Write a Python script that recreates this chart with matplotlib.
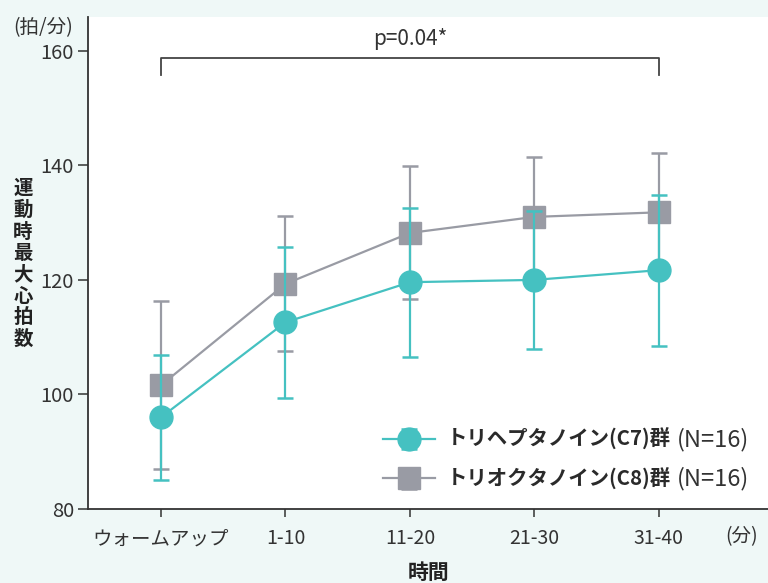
import matplotlib
matplotlib.use("Agg")
import matplotlib.pyplot as plt
import numpy as np

plt.rcParams['font.family'] = ['Noto Sans CJK JP', 'DejaVu Sans']

# Data: maximum heart rate during exercise (beats/min), mean ± SD
categories = ["ウォームアップ", "1-10", "11-20", "21-30", "31-40"]
c7_mean = [96.0, 112.6, 119.6, 120.0, 121.7]
c7_sd = [10.9, 13.2, 13.0, 12.0, 13.2]
c8_mean = [101.6, 119.3, 128.2, 131.0, 131.8]
c8_sd = [14.7, 11.8, 11.6, 10.5, 10.3]
c7_label = "トリヘプタノイン(C7)群"
c8_label = "トリオクタノイン(C8)群"
n_label = "(N=16)"
p_text = "p=0.04*"
yticks = [80, 100, 120, 140, 160]

teal = "#45c1c1"
gray = "#999ba4"
axis_col = "#333333"
text_col = "#333333"
bg = "#eff8f7"

fig = plt.figure(figsize=(7.68, 5.83), dpi=100, facecolor=bg)
ax = fig.add_axes([88 / 768, 74 / 583, 680 / 768, 492 / 583])
ax.set_facecolor("white")

x = np.arange(len(categories))

ax.errorbar(x, c8_mean, yerr=c8_sd, color=gray, lw=1.6, marker="s", ms=16.5,
            mec=gray, mfc=gray, capsize=6, capthick=1.8, elinewidth=1.6, zorder=3,
            label=c8_label)
ax.errorbar(x, c7_mean, yerr=c7_sd, color=teal, lw=1.6, marker="o", ms=16.5,
            mec=teal, mfc=teal, capsize=6, capthick=1.8, elinewidth=1.6, zorder=4,
            label=c7_label)

ax.set_xlim(-0.586, 4.876)
ax.set_ylim(80, 165.9)

for s in ["top", "right"]:
    ax.spines[s].set_visible(False)
for s in ["left", "bottom"]:
    ax.spines[s].set_color(axis_col)
    ax.spines[s].set_linewidth(1.3)

ax.set_yticks(yticks)
ax.set_yticklabels([str(v) for v in yticks], fontsize=14.5, color=text_col)
ax.set_xticks(x)
ax.set_xticklabels(categories, fontsize=14, color=text_col)
ax.tick_params(axis="y", direction="out", length=7, width=1.1, color=axis_col, pad=3)
ax.tick_params(axis="x", direction="out", length=6, width=1.1, color=axis_col, pad=8)

# significance bracket
ax.plot([x[0], x[0], x[-1], x[-1]], [155.8, 158.8, 158.8, 155.8],
        color="#444444", lw=1.3, clip_on=False)
ax.text((x[0] + x[-1]) / 2, 162.0, p_text, ha="center", va="center",
        fontsize=15, color=text_col)

# axis annotations
fig.text(13 / 768, 1 - 28 / 583, "(拍/分)", ha="left", va="center", fontsize=14, color=text_col)
fig.text(742 / 768, 1 - 537 / 583, "(分)", ha="center", va="center", fontsize=14, color=text_col)
fig.text(429 / 768, 1 - 572 / 583, "時間", ha="center", va="center", fontsize=15,
         fontweight="bold", color="#222222")
fig.text(23 / 768, 1 - 264 / 583, "\n".join("運動時最大心拍数"), ha="center", va="center",
         fontsize=14, fontweight="bold", color="#222222", linespacing=1.16)

# legend: C7 first, then C8
handles, labels = ax.get_legend_handles_labels()
leg = ax.legend(handles[::-1], labels[::-1], loc="lower left",
                bbox_to_anchor=((383 - 88) / 680, 0.039), frameon=False,
                prop={"size": 14.7, "weight": "bold"}, handlelength=2.55,
                handletextpad=0.55, labelspacing=0.85, borderaxespad=0, borderpad=0)
for t in leg.get_texts():
    t.set_color("#2a2a2a")
fig.canvas.draw()
for t in leg.get_texts():
    ax.annotate(n_label, xy=(1, 0.5), xycoords=t, xytext=(5, 0), textcoords="offset points",
                ha="left", va="center", fontsize=17, color=text_col)

fig.savefig("out.png", dpi=100, facecolor=bg)
